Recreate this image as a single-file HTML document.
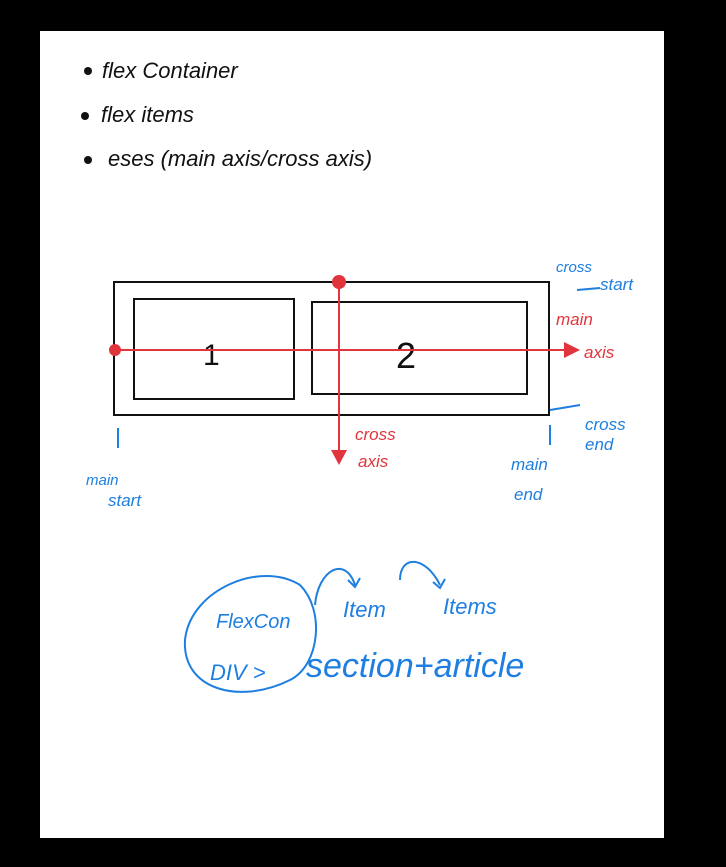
<!DOCTYPE html>
<html><head><meta charset="utf-8"><style>
html,body{margin:0;padding:0;background:#000;}
svg{display:block}
text{font-family:"Liberation Sans",sans-serif;}
</style></head><body>
<svg width="726" height="867" viewBox="0 0 726 867" xmlns="http://www.w3.org/2000/svg">
<rect x="0" y="0" width="726" height="867" fill="#000"/>
<rect x="40" y="31" width="624" height="807" fill="#fff"/>
<g fill="#111">
<circle cx="88" cy="71" r="4"/><circle cx="85" cy="116" r="4"/><circle cx="88" cy="160" r="4"/>
</g>
<g fill="#111" font-size="22" font-style="italic">
<text x="102" y="78">flex Container</text>
<text x="101" y="122">flex items</text>
<text x="108" y="166">eses (main axis/cross axis)</text>
</g>
<g fill="none" stroke="#111" stroke-width="2">
<rect x="114" y="282" width="435" height="133"/>
<rect x="134" y="299" width="160" height="100"/>
<rect x="312" y="302" width="215" height="92"/>
</g>
<text x="203" y="365" font-size="30" fill="#111">1</text>
<text x="396" y="368" font-size="36" fill="#111">2</text>
<g stroke="#e0353d" stroke-width="2" fill="#e0353d">
<line x1="114" y1="350" x2="566" y2="350"/>
<polygon points="564,342 580,350 564,358" stroke="none"/>
<circle cx="115" cy="350" r="6" stroke="none"/>
<line x1="339" y1="282" x2="339" y2="455"/>
<polygon points="331,450 339,465 347,450" stroke="none"/>
<circle cx="339" cy="282" r="7" stroke="none"/>
</g>
<g fill="#e0353d" font-size="17" font-style="italic">
<text x="556" y="325">main</text>
<text x="584" y="358">axis</text>
<text x="355" y="440">cross</text>
<text x="358" y="467">axis</text>
</g>
<g stroke="#1e7fe0" stroke-width="2" fill="none">
<line x1="118" y1="428" x2="118" y2="448"/>
<line x1="550" y1="425" x2="550" y2="445"/>
<line x1="577" y1="290" x2="600" y2="288"/>
<line x1="550" y1="410" x2="580" y2="405"/>
</g>
<g fill="#1e7fe0" font-size="17" font-style="italic">
<text x="556" y="272" font-size="15">cross</text>
<text x="600" y="290">start</text>
<text x="585" y="430">cross</text>
<text x="585" y="450">end</text>
<text x="86" y="485" font-size="15">main</text>
<text x="108" y="506">start</text>
<text x="511" y="470">main</text>
<text x="514" y="500">end</text>
</g>
<g stroke="#1e7fe0" stroke-width="2" fill="none">
<path d="M300,585 C260,560 190,590 185,640 C182,690 240,705 290,680 C320,665 325,610 300,585"/>
<path d="M315,605 C318,570 345,555 355,585"/>
<path d="M348,580 L355,587 L360,578"/>
<path d="M400,580 C400,555 425,555 440,585"/>
<path d="M433,582 L440,588 L445,579"/>
</g>
<g fill="#1e7fe0" font-style="italic">
<text x="216" y="628" font-size="20">FlexCon</text>
<text x="343" y="617" font-size="22">Item</text>
<text x="443" y="614" font-size="22">Items</text>
<text x="210" y="680" font-size="22">DIV &gt;</text>
<text x="306" y="677" font-size="34">section+article</text>
</g>
</svg>
</body></html>
